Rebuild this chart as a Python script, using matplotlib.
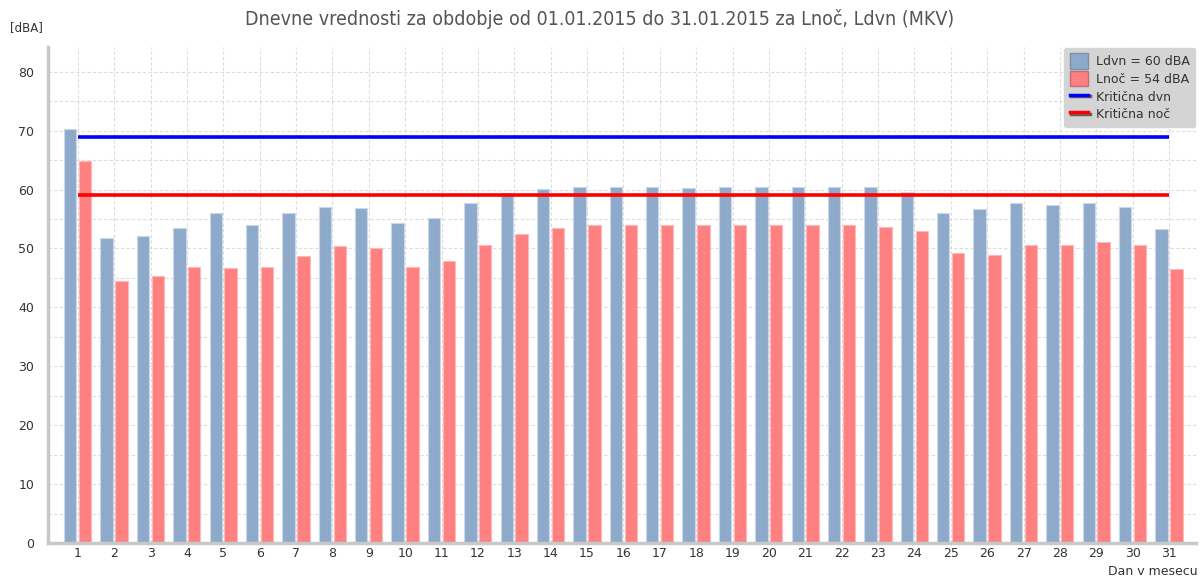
import numpy as np
import matplotlib
matplotlib.use("Agg")
from matplotlib import pyplot as plt
from matplotlib.patches import Patch
from matplotlib.lines import Line2D
import matplotlib.patheffects as pe

days = list(range(1, 32))
ldvn = [70.2, 51.7, 52.2, 53.5, 56.1, 53.9, 56.0, 57.0, 56.8, 54.3,
        55.1, 57.8, 59.5, 60.1, 60.5, 60.5, 60.5, 60.3, 60.5, 60.5,
        60.5, 60.5, 60.5, 59.6, 56.0, 56.7, 57.7, 57.4, 57.8, 57.0, 53.3]
lnoc = [64.9, 44.4, 45.3, 46.9, 46.7, 46.9, 48.8, 50.4, 50.0, 46.9,
        47.9, 50.6, 52.5, 53.5, 53.9, 53.9, 53.9, 53.9, 53.9, 53.9,
        53.9, 53.9, 53.7, 52.9, 49.2, 48.9, 50.6, 50.6, 51.1, 50.6, 46.5]
crit_dvn = 69
crit_noc = 59
ldvn_avg = 60
lnoc_avg = 54

blue = "#8eaacb"
red = "#ff8080"
txt = "#333333"

plt.rcParams['font.family'] = ['DejaVu Sans']

fig = plt.figure(figsize=(12, 5.79), dpi=100, facecolor="white")
ax = fig.add_axes([0.04, 0.0622, 0.9567, 0.8566])

x = np.array(days)
w = 0.34
ax.bar(x - 0.21, ldvn, width=w, color=blue, edgecolor="#c9d7e8", linewidth=0.8, zorder=2)
ax.bar(x + 0.2, lnoc, width=w, color=red, edgecolor="#ffb8b8", linewidth=0.8, zorder=2)

ax.plot([days[0], days[-1]], [crit_dvn, crit_dvn], color="#0000ff", lw=2.6, zorder=3,
        solid_capstyle="butt")
ax.plot([days[0], days[-1]], [crit_noc, crit_noc], color="#ff0000", lw=2.6, zorder=3,
        solid_capstyle="butt")

ax.set_xlim(0.18, 31.74)
ax.set_ylim(0, 84.2)
ax.set_xticks(days)
ax.set_yticks(range(0, 81, 10))
ax.set_yticks(range(5, 81, 10), minor=True)

# grid: dashed lines at every 5 dBA and at each day
ax.grid(True, which="both", axis="y", color="#dcdcdc", linestyle=(0, (3, 2)), lw=0.8, zorder=0)
ax.grid(True, which="major", axis="x", color="#dcdcdc", linestyle=(0, (3, 2)), lw=0.8, zorder=0)
ax.set_axisbelow(True)

for s in ("top", "right"):
    ax.spines[s].set_visible(False)
for s in ("left", "bottom"):
    ax.spines[s].set_color("#c8c8c8")
    ax.spines[s].set_linewidth(2.5)

ax.tick_params(axis="both", which="both", length=0, labelsize=9, colors=txt)
ax.tick_params(axis="x", pad=3)
ax.tick_params(axis="y", pad=10)

fig.text(0.5, 0.967, "Dnevne vrednosti za obdobje od 01.01.2015 do 31.01.2015 za Lnoč, Ldvn (MKV)",
         ha="center", va="center", fontsize=14, color="#555555",
         family=["Liberation Sans Narrow", "DejaVu Sans"], fontstretch="condensed")
fig.text(0.008, 0.952, "[dBA]", ha="left", va="center", fontsize=8.5, color=txt)
fig.text(0.998, 0.013, "Dan v mesecu", ha="right", va="center", fontsize=9, color=txt)

shadow = [pe.SimpleLineShadow(offset=(1, -1), shadow_color="#555555", alpha=0.9), pe.Normal()]
handles = [
    Patch(facecolor=blue, edgecolor="#7f8fa6", label=f"Ldvn = {ldvn_avg} dBA"),
    Patch(facecolor=red, edgecolor="#c07070", label=f"Lnoč = {lnoc_avg} dBA"),
    Line2D([], [], color="#0000ff", lw=2.5, path_effects=shadow, label="Kritična dvn"),
    Line2D([], [], color="#ff0000", lw=2.5, path_effects=shadow, label="Kritična noč"),
]
leg = ax.legend(handles=handles, loc="upper right", bbox_to_anchor=(1.0, 1.0),
                fontsize=9, frameon=True, fancybox=True, facecolor="#d4d4d4",
                edgecolor="#d4d4d4", framealpha=1, handlelength=1.5, handleheight=1.5,
                handletextpad=0.6, labelspacing=0.2, borderpad=0.45, borderaxespad=0.05)
for t in leg.get_texts():
    t.set_color(txt)
leg.set_zorder(5)

fig.savefig("out.png", dpi=100, facecolor="white")
